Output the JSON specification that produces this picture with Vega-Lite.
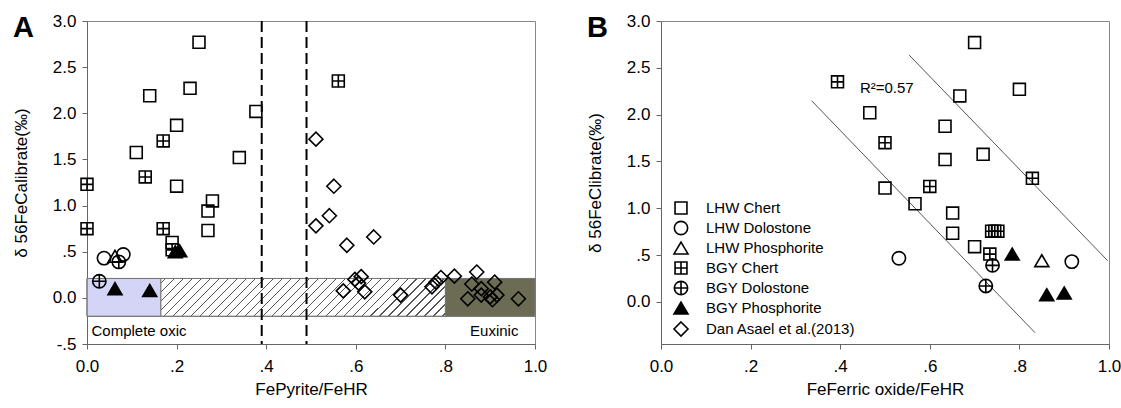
{
  "$schema": "https://vega.github.io/schema/vega-lite/v6.json",
  "background": "white",
  "padding": {"left": 11, "top": 11, "right": 2, "bottom": 2},
  "autosize": {"type": "pad"},
  "spacing": 126,
  "bounds": "flush",
  "config": {
    "view": {"stroke": "#888", "strokeWidth": 1},
    "axis": {"labelFont": "Liberation Sans", "titleFont": "Liberation Sans", "labelFontSize": 17, "titleFontSize": 17, "titleFontWeight": "normal", "labelColor": "#000", "titleColor": "#000", "domainColor": "#666", "tickColor": "#666", "grid": false, "tickSize": 5, "labelPadding": 5, "labelFlush": false, "labelOverlap": false},
    "text": {"font": "Liberation Sans"},
    "legend": {"labelFont": "Liberation Sans", "labelFontSize": 15, "labelColor": "#000"}
  },
  "datasets": {
    "regions": [{"x": 0, "x2": 0.165, "y": -0.2, "y2": 0.21}],
    "hatch": [{"x": 0.165, "x2": 0.8, "y": -0.2, "y2": 0.21}],
    "olive": [{"x": 0.8, "x2": 1.0, "y": -0.2, "y2": 0.21}],
    "band": [{"x": 0, "x2": 1.0, "y": -0.2, "y2": 0.21}],
    "vlines": [{"x": 0.39}, {"x": 0.49}],
    "zones": [{"x": 0.01, "y": -0.36, "label": "Complete oxic"}, {"x": 0.855, "y": -0.36, "label": "Euxinic"}],
    "a": [
      {"type": "LHW Chert", "x": 0.25, "y": 2.77},
      {"type": "LHW Chert", "x": 0.23, "y": 2.27},
      {"type": "LHW Chert", "x": 0.14, "y": 2.19},
      {"type": "LHW Chert", "x": 0.2, "y": 1.87},
      {"type": "LHW Chert", "x": 0.377, "y": 2.02},
      {"type": "LHW Chert", "x": 0.11, "y": 1.575},
      {"type": "LHW Chert", "x": 0.34, "y": 1.52},
      {"type": "LHW Chert", "x": 0.2, "y": 1.21},
      {"type": "LHW Chert", "x": 0.28, "y": 1.05},
      {"type": "LHW Chert", "x": 0.27, "y": 0.94},
      {"type": "LHW Chert", "x": 0.27, "y": 0.73},
      {"type": "LHW Chert", "x": 0.19, "y": 0.6},
      {"type": "BGY Chert", "x": 0.17, "y": 1.7},
      {"type": "BGY Chert", "x": 0.13, "y": 1.31},
      {"type": "BGY Chert", "x": 0.0, "y": 1.23},
      {"type": "BGY Chert", "x": 0.0, "y": 0.75},
      {"type": "BGY Chert", "x": 0.17, "y": 0.75},
      {"type": "BGY Chert", "x": 0.19, "y": 0.52},
      {"type": "BGY Chert", "x": 0.561, "y": 2.35},
      {"type": "LHW Dolostone", "x": 0.038, "y": 0.43},
      {"type": "LHW Dolostone", "x": 0.081, "y": 0.47},
      {"type": "LHW Phosphorite", "x": 0.0625, "y": 0.45},
      {"type": "BGY Dolostone", "x": 0.071, "y": 0.39},
      {"type": "BGY Dolostone", "x": 0.0275, "y": 0.18},
      {"type": "BGY Phosphorite", "x": 0.0625, "y": 0.1},
      {"type": "BGY Phosphorite", "x": 0.14, "y": 0.08},
      {"type": "BGY Phosphorite", "x": 0.197, "y": 0.5},
      {"type": "BGY Phosphorite", "x": 0.207, "y": 0.51},
      {"type": "Dan Asael et al.(2013)", "x": 0.511, "y": 1.72},
      {"type": "Dan Asael et al.(2013)", "x": 0.551, "y": 1.21},
      {"type": "Dan Asael et al.(2013)", "x": 0.541, "y": 0.89},
      {"type": "Dan Asael et al.(2013)", "x": 0.511, "y": 0.78},
      {"type": "Dan Asael et al.(2013)", "x": 0.64, "y": 0.66},
      {"type": "Dan Asael et al.(2013)", "x": 0.58, "y": 0.57},
      {"type": "Dan Asael et al.(2013)", "x": 0.572, "y": 0.076},
      {"type": "Dan Asael et al.(2013)", "x": 0.598, "y": 0.2},
      {"type": "Dan Asael et al.(2013)", "x": 0.612, "y": 0.23},
      {"type": "Dan Asael et al.(2013)", "x": 0.606, "y": 0.16},
      {"type": "Dan Asael et al.(2013)", "x": 0.62, "y": 0.065},
      {"type": "Dan Asael et al.(2013)", "x": 0.7, "y": 0.03},
      {"type": "Dan Asael et al.(2013)", "x": 0.77, "y": 0.12},
      {"type": "Dan Asael et al.(2013)", "x": 0.779, "y": 0.17},
      {"type": "Dan Asael et al.(2013)", "x": 0.79, "y": 0.22},
      {"type": "Dan Asael et al.(2013)", "x": 0.82, "y": 0.235},
      {"type": "Dan Asael et al.(2013)", "x": 0.87, "y": 0.28},
      {"type": "Dan Asael et al.(2013)", "x": 0.859, "y": 0.15},
      {"type": "Dan Asael et al.(2013)", "x": 0.91, "y": 0.17},
      {"type": "Dan Asael et al.(2013)", "x": 0.85, "y": -0.01},
      {"type": "Dan Asael et al.(2013)", "x": 0.88, "y": 0.03},
      {"type": "Dan Asael et al.(2013)", "x": 0.9, "y": 0.01},
      {"type": "Dan Asael et al.(2013)", "x": 0.915, "y": 0.03},
      {"type": "Dan Asael et al.(2013)", "x": 0.88, "y": 0.1},
      {"type": "Dan Asael et al.(2013)", "x": 0.963, "y": -0.01},
      {"type": "Dan Asael et al.(2013)", "x": 0.905, "y": -0.02}
    ],
    "b": [
      {"type": "LHW Chert", "x": 0.7, "y": 2.77},
      {"type": "LHW Chert", "x": 0.8, "y": 2.27},
      {"type": "LHW Chert", "x": 0.667, "y": 2.2},
      {"type": "LHW Chert", "x": 0.466, "y": 2.02},
      {"type": "LHW Chert", "x": 0.634, "y": 1.876},
      {"type": "LHW Chert", "x": 0.719, "y": 1.576},
      {"type": "LHW Chert", "x": 0.634, "y": 1.52},
      {"type": "LHW Chert", "x": 0.5, "y": 1.215},
      {"type": "LHW Chert", "x": 0.567, "y": 1.048},
      {"type": "LHW Chert", "x": 0.651, "y": 0.948},
      {"type": "LHW Chert", "x": 0.651, "y": 0.733},
      {"type": "LHW Chert", "x": 0.7, "y": 0.59},
      {"type": "LHW Dolostone", "x": 0.531, "y": 0.466},
      {"type": "LHW Dolostone", "x": 0.917, "y": 0.43},
      {"type": "LHW Phosphorite", "x": 0.85, "y": 0.44},
      {"type": "BGY Chert", "x": 0.394, "y": 2.35},
      {"type": "BGY Chert", "x": 0.5, "y": 1.7},
      {"type": "BGY Chert", "x": 0.829, "y": 1.32},
      {"type": "BGY Chert", "x": 0.6, "y": 1.233},
      {"type": "BGY Chert", "x": 0.738, "y": 0.755},
      {"type": "BGY Chert", "x": 0.745, "y": 0.755},
      {"type": "BGY Chert", "x": 0.752, "y": 0.755},
      {"type": "BGY Chert", "x": 0.734, "y": 0.51},
      {"type": "BGY Dolostone", "x": 0.74, "y": 0.39},
      {"type": "BGY Dolostone", "x": 0.725, "y": 0.17},
      {"type": "BGY Phosphorite", "x": 0.784, "y": 0.51},
      {"type": "BGY Phosphorite", "x": 0.861, "y": 0.077},
      {"type": "BGY Phosphorite", "x": 0.9, "y": 0.095}
    ],
    "blines": [
      {"line": "upper", "x": 0.554, "y": 2.636},
      {"line": "upper", "x": 0.997, "y": 0.44},
      {"line": "lower", "x": 0.336, "y": 2.15},
      {"line": "lower", "x": 0.835, "y": -0.33}
    ],
    "r2": [{"x": 0.444, "y": 2.28, "label": "R²=0.57"}]
  },
  "resolve": {"scale": {"shape": "independent", "fill": "independent", "stroke": "independent"}, "legend": {"shape": "independent", "fill": "independent", "stroke": "independent"}},
  "hconcat": [
    {
      "width": 448,
      "height": 323,
      "title": {"text": "A", "anchor": "start", "frame": "group", "fontSize": 29, "fontWeight": "bold", "font": "Liberation Sans", "color": "#000", "dx": -74, "dy": 42, "baseline": "top", "offset": 11},
      "layer": [
        {
          "data": {"name": "regions"},
          "mark": {"type": "rect", "fill": "#d4d4f6", "stroke": "#777", "strokeWidth": 1},
          "encoding": {
            "x": {"field": "x", "type": "quantitative"},
            "x2": {"field": "x2"},
            "y": {"field": "y", "type": "quantitative"},
            "y2": {"field": "y2"}
          }
        },
        {
          "data": {"name": "hatch"},
          "mark": {"type": "rect", "stroke": "#777", "strokeWidth": 1, "fill": {"gradient": "linear", "x1": 0, "y1": 0, "x2": 1.133, "y2": 0.1507, "stops": [
            {"offset": 0, "color": "#ffffff"},
            {"offset": 0.012, "color": "#ffffff"}, {"offset": 0.012, "color": "#555555"}, {"offset": 0.0155, "color": "#555555"}, {"offset": 0.0155, "color": "#ffffff"},
            {"offset": 0.0394, "color": "#ffffff"}, {"offset": 0.0394, "color": "#555555"}, {"offset": 0.0429, "color": "#555555"}, {"offset": 0.0429, "color": "#ffffff"},
            {"offset": 0.0668, "color": "#ffffff"}, {"offset": 0.0668, "color": "#555555"}, {"offset": 0.0703, "color": "#555555"}, {"offset": 0.0703, "color": "#ffffff"},
            {"offset": 0.0942, "color": "#ffffff"}, {"offset": 0.0942, "color": "#555555"}, {"offset": 0.0977, "color": "#555555"}, {"offset": 0.0977, "color": "#ffffff"},
            {"offset": 0.1216, "color": "#ffffff"}, {"offset": 0.1216, "color": "#555555"}, {"offset": 0.1251, "color": "#555555"}, {"offset": 0.1251, "color": "#ffffff"},
            {"offset": 0.149, "color": "#ffffff"}, {"offset": 0.149, "color": "#555555"}, {"offset": 0.1525, "color": "#555555"}, {"offset": 0.1525, "color": "#ffffff"},
            {"offset": 0.1764, "color": "#ffffff"}, {"offset": 0.1764, "color": "#555555"}, {"offset": 0.1799, "color": "#555555"}, {"offset": 0.1799, "color": "#ffffff"},
            {"offset": 0.2038, "color": "#ffffff"}, {"offset": 0.2038, "color": "#555555"}, {"offset": 0.2073, "color": "#555555"}, {"offset": 0.2073, "color": "#ffffff"},
            {"offset": 0.2312, "color": "#ffffff"}, {"offset": 0.2312, "color": "#555555"}, {"offset": 0.2347, "color": "#555555"}, {"offset": 0.2347, "color": "#ffffff"},
            {"offset": 0.2586, "color": "#ffffff"}, {"offset": 0.2586, "color": "#555555"}, {"offset": 0.2621, "color": "#555555"}, {"offset": 0.2621, "color": "#ffffff"},
            {"offset": 0.286, "color": "#ffffff"}, {"offset": 0.286, "color": "#555555"}, {"offset": 0.2895, "color": "#555555"}, {"offset": 0.2895, "color": "#ffffff"},
            {"offset": 0.3134, "color": "#ffffff"}, {"offset": 0.3134, "color": "#555555"}, {"offset": 0.3169, "color": "#555555"}, {"offset": 0.3169, "color": "#ffffff"},
            {"offset": 0.3408, "color": "#ffffff"}, {"offset": 0.3408, "color": "#555555"}, {"offset": 0.3443, "color": "#555555"}, {"offset": 0.3443, "color": "#ffffff"},
            {"offset": 0.3682, "color": "#ffffff"}, {"offset": 0.3682, "color": "#555555"}, {"offset": 0.3717, "color": "#555555"}, {"offset": 0.3717, "color": "#ffffff"},
            {"offset": 0.3956, "color": "#ffffff"}, {"offset": 0.3956, "color": "#555555"}, {"offset": 0.3991, "color": "#555555"}, {"offset": 0.3991, "color": "#ffffff"},
            {"offset": 0.423, "color": "#ffffff"}, {"offset": 0.423, "color": "#555555"}, {"offset": 0.4265, "color": "#555555"}, {"offset": 0.4265, "color": "#ffffff"},
            {"offset": 0.4504, "color": "#ffffff"}, {"offset": 0.4504, "color": "#555555"}, {"offset": 0.4539, "color": "#555555"}, {"offset": 0.4539, "color": "#ffffff"},
            {"offset": 0.4778, "color": "#ffffff"}, {"offset": 0.4778, "color": "#555555"}, {"offset": 0.4813, "color": "#555555"}, {"offset": 0.4813, "color": "#ffffff"},
            {"offset": 0.5052, "color": "#ffffff"}, {"offset": 0.5052, "color": "#555555"}, {"offset": 0.5087, "color": "#555555"}, {"offset": 0.5087, "color": "#ffffff"},
            {"offset": 0.5326, "color": "#ffffff"}, {"offset": 0.5326, "color": "#555555"}, {"offset": 0.5361, "color": "#555555"}, {"offset": 0.5361, "color": "#ffffff"},
            {"offset": 0.56, "color": "#ffffff"}, {"offset": 0.56, "color": "#555555"}, {"offset": 0.5635, "color": "#555555"}, {"offset": 0.5635, "color": "#ffffff"},
            {"offset": 0.5874, "color": "#ffffff"}, {"offset": 0.5874, "color": "#555555"}, {"offset": 0.5909, "color": "#555555"}, {"offset": 0.5909, "color": "#ffffff"},
            {"offset": 0.6148, "color": "#ffffff"}, {"offset": 0.6148, "color": "#555555"}, {"offset": 0.6183, "color": "#555555"}, {"offset": 0.6183, "color": "#ffffff"},
            {"offset": 0.6422, "color": "#ffffff"}, {"offset": 0.6422, "color": "#555555"}, {"offset": 0.6457, "color": "#555555"}, {"offset": 0.6457, "color": "#ffffff"},
            {"offset": 0.6696, "color": "#ffffff"}, {"offset": 0.6696, "color": "#555555"}, {"offset": 0.6731, "color": "#555555"}, {"offset": 0.6731, "color": "#ffffff"},
            {"offset": 0.697, "color": "#ffffff"}, {"offset": 0.697, "color": "#555555"}, {"offset": 0.7005, "color": "#555555"}, {"offset": 0.7005, "color": "#ffffff"},
            {"offset": 0.7244, "color": "#ffffff"}, {"offset": 0.7244, "color": "#555555"}, {"offset": 0.7279, "color": "#555555"}, {"offset": 0.7279, "color": "#ffffff"},
            {"offset": 0.7518, "color": "#ffffff"}, {"offset": 0.7518, "color": "#555555"}, {"offset": 0.7553, "color": "#555555"}, {"offset": 0.7553, "color": "#ffffff"},
            {"offset": 0.7792, "color": "#ffffff"}, {"offset": 0.7792, "color": "#555555"}, {"offset": 0.7827, "color": "#555555"}, {"offset": 0.7827, "color": "#ffffff"},
            {"offset": 0.8066, "color": "#ffffff"}, {"offset": 0.8066, "color": "#555555"}, {"offset": 0.8101, "color": "#555555"}, {"offset": 0.8101, "color": "#ffffff"},
            {"offset": 0.834, "color": "#ffffff"}, {"offset": 0.834, "color": "#555555"}, {"offset": 0.8375, "color": "#555555"}, {"offset": 0.8375, "color": "#ffffff"},
            {"offset": 0.8614, "color": "#ffffff"}, {"offset": 0.8614, "color": "#555555"}, {"offset": 0.8649, "color": "#555555"}, {"offset": 0.8649, "color": "#ffffff"},
            {"offset": 0.8888, "color": "#ffffff"}, {"offset": 0.8888, "color": "#555555"}, {"offset": 0.8923, "color": "#555555"}, {"offset": 0.8923, "color": "#ffffff"},
            {"offset": 0.9162, "color": "#ffffff"}, {"offset": 0.9162, "color": "#555555"}, {"offset": 0.9197, "color": "#555555"}, {"offset": 0.9197, "color": "#ffffff"},
            {"offset": 0.9436, "color": "#ffffff"}, {"offset": 0.9436, "color": "#555555"}, {"offset": 0.9471, "color": "#555555"}, {"offset": 0.9471, "color": "#ffffff"},
            {"offset": 0.971, "color": "#ffffff"}, {"offset": 0.971, "color": "#555555"}, {"offset": 0.9745, "color": "#555555"}, {"offset": 0.9745, "color": "#ffffff"},
            {"offset": 1, "color": "#ffffff"}
          ]}},
          "encoding": {
            "x": {"field": "x", "type": "quantitative"},
            "x2": {"field": "x2"},
            "y": {"field": "y", "type": "quantitative"},
            "y2": {"field": "y2"}
          }
        },
        {
          "data": {"name": "olive"},
          "mark": {"type": "rect", "fill": "#6c6c55", "stroke": "#777", "strokeWidth": 1},
          "encoding": {
            "x": {"field": "x", "type": "quantitative"},
            "x2": {"field": "x2"},
            "y": {"field": "y", "type": "quantitative"},
            "y2": {"field": "y2"}
          }
        },
        {
          "data": {"name": "band"},
          "mark": {"type": "rect", "fill": null, "fillOpacity": 0, "stroke": "#777", "strokeWidth": 1},
          "encoding": {
            "x": {"field": "x", "type": "quantitative"},
            "x2": {"field": "x2"},
            "y": {"field": "y", "type": "quantitative"},
            "y2": {"field": "y2"}
          }
        },
        {
          "data": {"name": "vlines"},
          "mark": {"type": "rule", "color": "#000", "strokeWidth": 2, "strokeDash": [11, 5]},
          "encoding": {
            "x": {"field": "x", "type": "quantitative"}
          }
        },
        {
          "data": {"name": "zones"},
          "mark": {"type": "text", "align": "left", "baseline": "middle", "fontSize": 15, "color": "#000"},
          "encoding": {
            "x": {"field": "x", "type": "quantitative"},
            "y": {"field": "y", "type": "quantitative"},
            "text": {"field": "label"}
          }
        },
        {
          "data": {"name": "a"},
          "mark": {"type": "point", "size": 196, "strokeWidth": 1.6, "opacity": 1},
          "encoding": {
            "x": {"field": "x", "type": "quantitative", "scale": {"domain": [0, 1], "nice": false, "zero": false},
              "axis": {"title": "FePyrite/FeHR", "values": [0, 0.2, 0.4, 0.6, 0.8, 1.0], "labelExpr": "datum.value == 0 ? '0.0' : (abs(datum.value) < 1 ? (datum.value < 0 ? '-' : '') + substring(format(abs(datum.value), '.1f'), 1) : format(datum.value, '.1f'))", "labelPadding": 9, "titlePadding": 7}},
            "y": {"field": "y", "type": "quantitative", "scale": {"domain": [-0.5, 3], "nice": false, "zero": false},
              "axis": {"title": "δ 56FeCalibrate(‰)", "values": [-0.5, 0, 0.5, 1, 1.5, 2, 2.5, 3], "labelExpr": "datum.value == 0 ? '0.0' : (abs(datum.value) < 1 ? (datum.value < 0 ? '-' : '') + substring(format(abs(datum.value), '.1f'), 1) : format(datum.value, '.1f'))", "labelPadding": 6, "titlePadding": 22}},
            "shape": {"field": "type", "type": "nominal", "legend": null,
              "scale": {"domain": ["LHW Chert", "LHW Dolostone", "LHW Phosphorite", "BGY Chert", "BGY Dolostone", "BGY Phosphorite", "Dan Asael et al.(2013)"],
                "range": ["M-0.85,-0.85H0.85V0.85H-0.85Z", "M-0.95,0A0.95,0.95 0 1,0 0.95,0A0.95,0.95 0 1,0 -0.95,0Z", "M0,-0.85L1,0.85H-1Z", "M-0.85,-0.85H0.85V0.85H-0.85Z M0,-0.85V0.85 M-0.85,0H0.85", "M-0.95,0A0.95,0.95 0 1,0 0.95,0A0.95,0.95 0 1,0 -0.95,0Z M0,-0.95V0.95 M-0.95,0H0.95", "M0,-0.85L1,0.85H-1Z", "M0,-1L1,0L0,1L-1,0Z"]}},
            "fill": {"field": "type", "type": "nominal", "legend": null,
              "scale": {"domain": ["LHW Chert", "LHW Dolostone", "LHW Phosphorite", "BGY Chert", "BGY Dolostone", "BGY Phosphorite", "Dan Asael et al.(2013)"],
                "range": ["transparent", "transparent", "transparent", "transparent", "transparent", "#000000", "transparent"]}},
            "stroke": {"field": "type", "type": "nominal", "legend": null,
              "scale": {"domain": ["LHW Chert", "LHW Dolostone", "LHW Phosphorite", "BGY Chert", "BGY Dolostone", "BGY Phosphorite", "Dan Asael et al.(2013)"],
                "range": ["#000000", "#000000", "#000000", "#000000", "#000000", "#000000", "#000000"]}}
          }
        }
      ]
    },
    {
      "width": 448,
      "height": 323,
      "title": {"text": "B", "anchor": "start", "frame": "group", "fontSize": 29, "fontWeight": "bold", "font": "Liberation Sans", "color": "#000", "dx": -74, "dy": 42, "baseline": "top", "offset": 11},
      "layer": [
        {
          "data": {"name": "blines"},
          "mark": {"type": "line", "color": "#555", "strokeWidth": 1},
          "encoding": {
            "x": {"field": "x", "type": "quantitative"},
            "y": {"field": "y", "type": "quantitative"},
            "detail": {"field": "line"}
          }
        },
        {
          "data": {"name": "r2"},
          "mark": {"type": "text", "align": "left", "baseline": "middle", "fontSize": 15, "color": "#000"},
          "encoding": {
            "x": {"field": "x", "type": "quantitative"},
            "y": {"field": "y", "type": "quantitative"},
            "text": {"field": "label"}
          }
        },
        {
          "data": {"name": "b"},
          "mark": {"type": "point", "size": 196, "strokeWidth": 1.6, "opacity": 1},
          "encoding": {
            "x": {"field": "x", "type": "quantitative", "scale": {"domain": [0, 1], "nice": false, "zero": false},
              "axis": {"title": "FeFerric oxide/FeHR", "values": [0, 0.2, 0.4, 0.6, 0.8, 1.0], "labelExpr": "datum.value == 0 ? '0.0' : (abs(datum.value) < 1 ? (datum.value < 0 ? '-' : '') + substring(format(abs(datum.value), '.1f'), 1) : format(datum.value, '.1f'))", "labelPadding": 9, "titlePadding": 7}},
            "y": {"field": "y", "type": "quantitative", "scale": {"domain": [-0.45, 3], "nice": false, "zero": false},
              "axis": {"title": "δ 56FeClibrate(‰)", "values": [0, 0.5, 1, 1.5, 2, 2.5, 3], "labelExpr": "datum.value == 0 ? '0.0' : (abs(datum.value) < 1 ? (datum.value < 0 ? '-' : '') + substring(format(abs(datum.value), '.1f'), 1) : format(datum.value, '.1f'))", "labelPadding": 6, "titlePadding": 22}},
            "shape": {"field": "type", "type": "nominal",
              "legend": {"title": null, "orient": "none", "legendX": 12, "legendY": 179, "symbolSize": 196, "symbolStrokeWidth": 1.6, "rowPadding": 0, "labelOffset": 17, "padding": 0},
              "scale": {"domain": ["LHW Chert", "LHW Dolostone", "LHW Phosphorite", "BGY Chert", "BGY Dolostone", "BGY Phosphorite", "Dan Asael et al.(2013)"],
                "range": ["M-0.85,-0.85H0.85V0.85H-0.85Z", "M-0.95,0A0.95,0.95 0 1,0 0.95,0A0.95,0.95 0 1,0 -0.95,0Z", "M0,-0.85L1,0.85H-1Z", "M-0.85,-0.85H0.85V0.85H-0.85Z M0,-0.85V0.85 M-0.85,0H0.85", "M-0.95,0A0.95,0.95 0 1,0 0.95,0A0.95,0.95 0 1,0 -0.95,0Z M0,-0.95V0.95 M-0.95,0H0.95", "M0,-0.85L1,0.85H-1Z", "M0,-1L1,0L0,1L-1,0Z"]}},
            "fill": {"field": "type", "type": "nominal",
              "legend": {"title": null, "orient": "none", "legendX": 12, "legendY": 179, "symbolSize": 196, "symbolStrokeWidth": 1.6, "rowPadding": 0, "labelOffset": 17, "padding": 0},
              "scale": {"domain": ["LHW Chert", "LHW Dolostone", "LHW Phosphorite", "BGY Chert", "BGY Dolostone", "BGY Phosphorite", "Dan Asael et al.(2013)"],
                "range": ["transparent", "transparent", "transparent", "transparent", "transparent", "#000000", "transparent"]}},
            "stroke": {"field": "type", "type": "nominal",
              "legend": {"title": null, "orient": "none", "legendX": 12, "legendY": 179, "symbolSize": 196, "symbolStrokeWidth": 1.6, "rowPadding": 0, "labelOffset": 17, "padding": 0},
              "scale": {"domain": ["LHW Chert", "LHW Dolostone", "LHW Phosphorite", "BGY Chert", "BGY Dolostone", "BGY Phosphorite", "Dan Asael et al.(2013)"],
                "range": ["#000000", "#000000", "#000000", "#000000", "#000000", "#000000", "#000000"]}}
          }
        }
      ]
    }
  ]
}
